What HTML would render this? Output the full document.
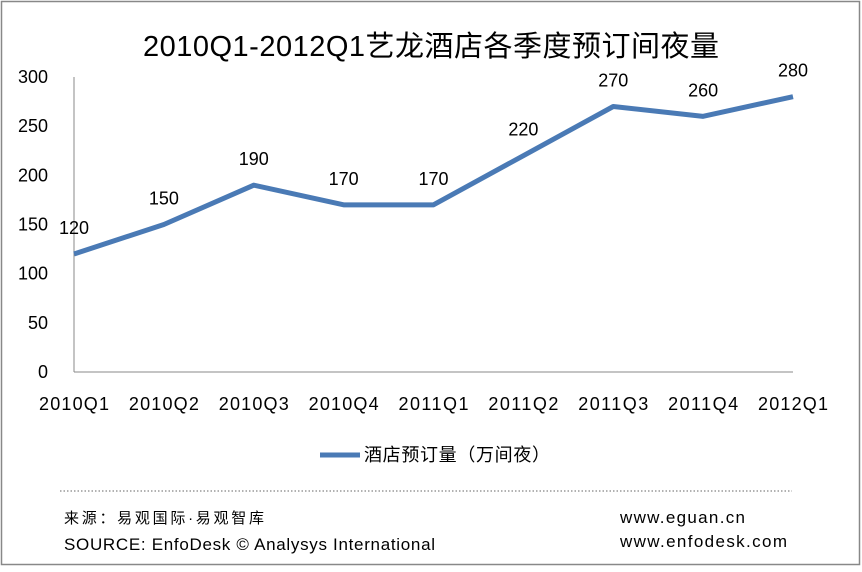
<!DOCTYPE html>
<html><head><meta charset="utf-8"><style>
body{margin:0;background:#fff}
svg text{font-family:"Liberation Sans","Noto Sans CJK SC",sans-serif}
</style></head><body>
<svg width="862" height="567" viewBox="0 0 862 567">
<rect x="1.5" y="1.5" width="858" height="563" fill="#fff" stroke="#888" stroke-width="1.5"/>
<text x="431" y="56" text-anchor="middle" font-size="29" textLength="576" fill="#000">2010Q1-2012Q1艺龙酒店各季度预订间夜量</text>
<g id="axes"></g>
<g id="marks"></g>
<line x1="320" y1="455" x2="360" y2="455" stroke="#4a7ab5" stroke-width="5"/>
<text x="364" y="461" font-size="18" textLength="186">酒店预订量（万间夜）</text>
<line x1="60" y1="491" x2="792" y2="491" stroke="#666" stroke-dasharray="1.5,2"/>
<text x="64" y="523" font-size="15" textLength="200">来源：易观国际·易观智库</text>
<text x="64" y="550" font-size="17" textLength="371">SOURCE: EnfoDesk © Analysys International</text>
<text x="620" y="523" font-size="17" textLength="125">www.eguan.cn</text>
<text x="620" y="547" font-size="17" textLength="167">www.enfodesk.com</text>
</svg>
<script>
const categories=["2010Q1","2010Q2","2010Q3","2010Q4","2011Q1","2011Q2","2011Q3","2011Q4","2012Q1"];
const values=[120,150,190,170,170,220,270,260,280];
const yTicks=[0,50,100,150,200,250,300];
const NS="http://www.w3.org/2000/svg";
const x0=74,x1=793,y0=372,y300=77;
const xs=i=>x0+i*(x1-x0)/(categories.length-1);
const ys=v=>y0-(v/300)*(y0-y300);
function el(t,a,p){const e=document.createElementNS(NS,t);for(const k in a)e.setAttribute(k,a[k]);p.appendChild(e);return e;}
const ax=document.getElementById('axes'),mk=document.getElementById('marks');
const ya=el('line',{x1:x0,y1:y300,x2:x0,y2:y0,stroke:'#888'},ax);


const xa=el('line',{x1:x0,y1:y0,x2:x1,y2:y0,stroke:'#888'},ax);


yTicks.forEach(v=>{const t=el('text',{x:48,y:ys(v)+6,'text-anchor':'end','font-size':18},ax);t.textContent=v;

});
categories.forEach((c,i)=>{const t=el('text',{x:xs(i),y:410,'text-anchor':'middle','font-size':18,textLength:70},ax);t.textContent=c;

});
const pl=el('polyline',{points:values.map((v,i)=>xs(i)+','+ys(v)).join(' '),fill:'none',stroke:'#4a7ab5','stroke-width':5,'stroke-linejoin':'round'},mk);


values.forEach((v,i)=>{const t=el('text',{x:xs(i),y:ys(v)-20,'text-anchor':'middle','font-size':18},mk);t.textContent=v;

});
</script>
</body></html>
